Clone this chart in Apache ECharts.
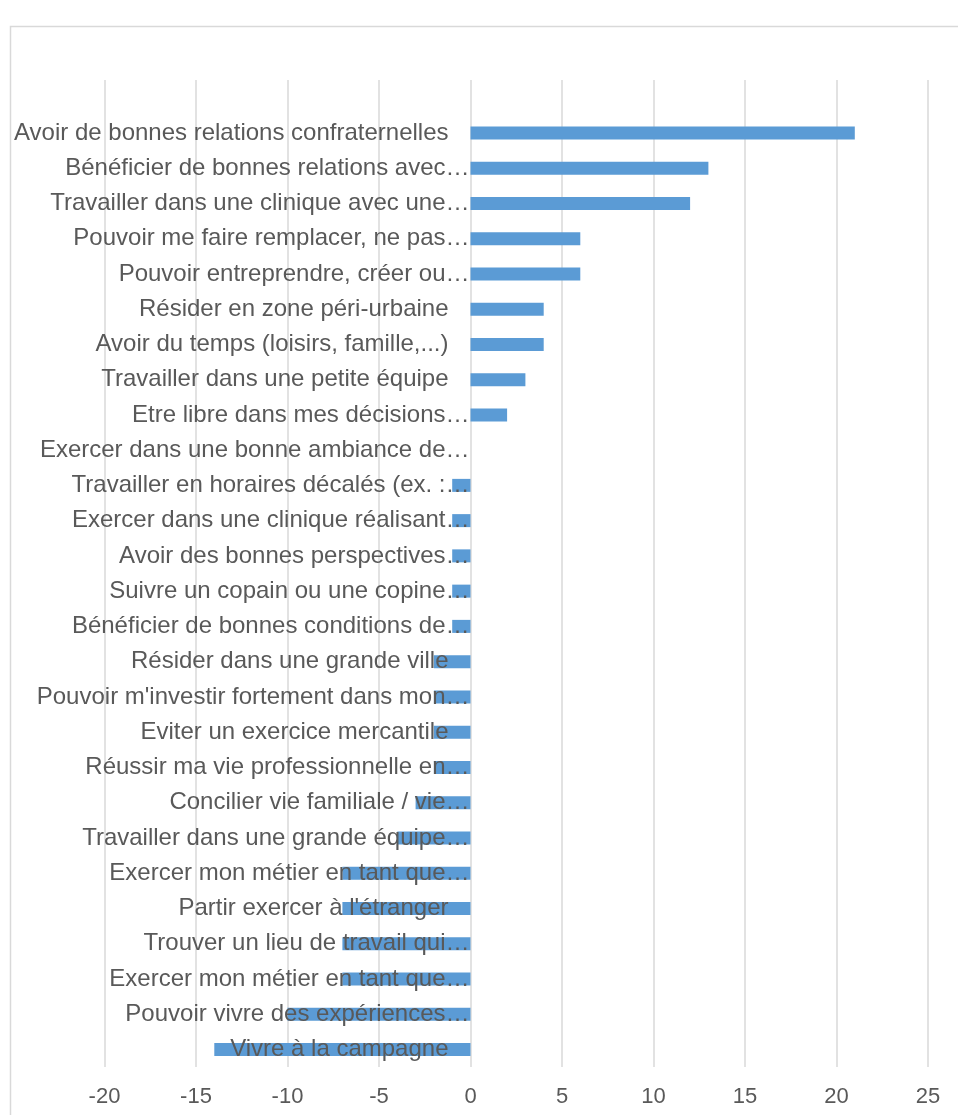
<!DOCTYPE html>
<html><head><meta charset="utf-8">
<script src="https://cdn.jsdelivr.net/npm/echarts@6/dist/echarts.min.js"></script>
<style>html,body{margin:0;padding:0;background:#fff}#c{width:958px;height:1115px}</style>
</head><body><div id="c"></div>
<script>
// Categories top to bottom (first one is an empty slot at the top of the plot)
const categories = [
  "",
  "Avoir de bonnes relations confraternelles",
  "Bénéficier de bonnes relations avec…",
  "Travailler dans une clinique avec une…",
  "Pouvoir me faire remplacer, ne pas…",
  "Pouvoir entreprendre, créer ou…",
  "Résider en zone péri-urbaine",
  "Avoir du temps (loisirs, famille,...)",
  "Travailler dans une petite équipe",
  "Etre libre dans mes décisions…",
  "Exercer dans une bonne ambiance de…",
  "Travailler en horaires décalés (ex. :…",
  "Exercer dans une clinique réalisant…",
  "Avoir des bonnes perspectives…",
  "Suivre un copain ou une copine…",
  "Bénéficier de bonnes conditions de…",
  "Résider dans une grande ville",
  "Pouvoir m'investir fortement dans mon…",
  "Eviter un exercice mercantile",
  "Réussir ma vie professionnelle en…",
  "Concilier vie familiale / vie…",
  "Travailler dans une grande équipe…",
  "Exercer mon métier en tant que…",
  "Partir exercer à l'étranger",
  "Trouver un lieu de travail qui…",
  "Exercer mon métier en tant que…",
  "Pouvoir vivre des expériences…",
  "Vivre à la campagne"
];
const values = [
  null, 21, 13, 12, 6, 6, 4, 4, 3, 2, 0,
  -1, -1, -1, -1, -1, -2, -2, -2, -2, -3, -4,
  -7, -7, -7, -7, -10, -14
];
const xTicks = { min: -20, max: 25, interval: 5 };

const FONT = 'Liberation Sans, Arial, sans-serif';
const GRID_LEFT = 104.5, GRID_RIGHT = 30;
// pixel x of value 0 inside the grid, used to move category labels next to the zero line
const zeroX = GRID_LEFT + (0 - xTicks.min) / (xTicks.max - xTicks.min) * (958 - GRID_LEFT - GRID_RIGHT);

const chart = echarts.init(document.getElementById('c'));
chart.setOption({
  animation: false,
  backgroundColor: '#fff',
  graphic: [{
    type: 'rect', silent: true, z: -10,
    shape: { x: 10.5, y: 26.5, width: 1000, height: 1200 },
    style: { fill: 'none', stroke: '#d9d9d9', lineWidth: 1.5 }
  }],
  grid: { left: GRID_LEFT, right: GRID_RIGHT, top: 80, bottom: 48, outerBoundsMode: 'none', containLabel: false },
  xAxis: {
    type: 'value', min: xTicks.min, max: xTicks.max, interval: xTicks.interval,
    axisLine: { show: false }, axisTick: { show: false },
    splitLine: { show: true, lineStyle: { color: '#d9d9d9', width: 1.5 } },
    axisLabel: { color: '#595959', fontSize: 22, fontFamily: FONT, margin: 19 }
  },
  yAxis: {
    type: 'category', data: categories, inverse: true, z: 10,
    axisLine: { show: false },
    axisTick: { show: false },
    axisLabel: {
      margin: GRID_LEFT - zeroX + 1, interval: 0,
      color: '#595959', fontSize: 24, fontFamily: FONT,
      formatter: function (v) {
        if (!v) return '';
        return v.endsWith('…') ? '{t|' + v + '}' : '{f|' + v + '}';
      },
      rich: {
        t: { color: '#595959', fontSize: 24, fontFamily: FONT },
        f: { color: '#595959', fontSize: 24, fontFamily: FONT, padding: [0, 21, 0, 0] }
      }
    }
  },
  series: [{
    type: 'bar', data: values, barWidth: 13,
    itemStyle: { color: '#5B9BD5' }
  }]
});
</script></body></html>
